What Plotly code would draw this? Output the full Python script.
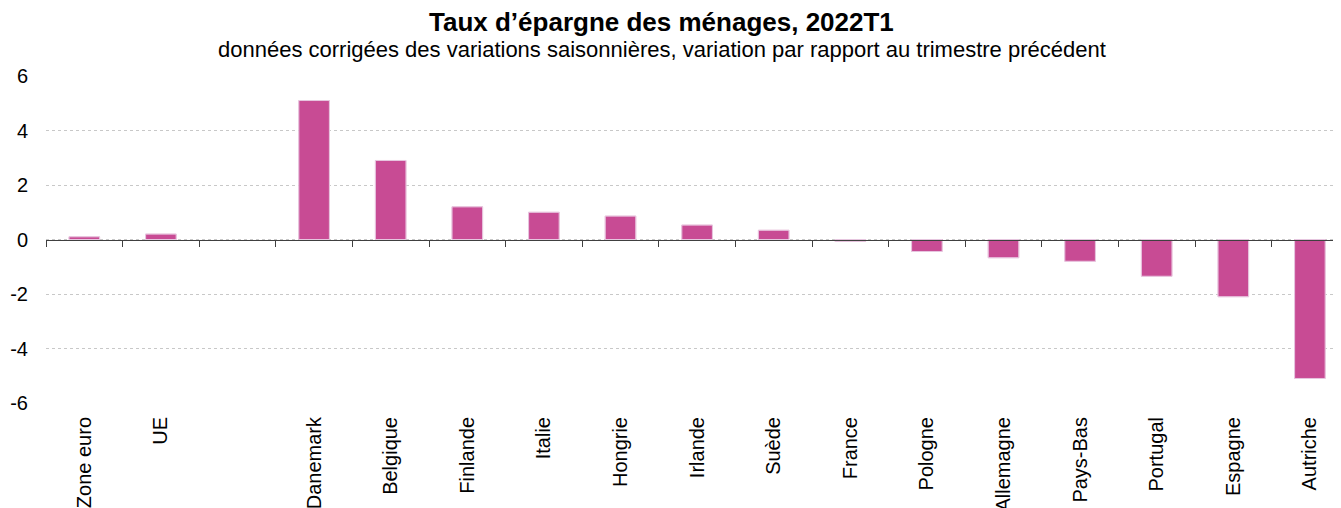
import plotly.graph_objects as go

categories = ["Zone euro", "UE", " ", "Danemark", "Belgique", "Finlande", "Italie",
              "Hongrie", "Irlande", "Suède", "France", "Pologne", "Allemagne",
              "Pays-Bas", "Portugal", "Espagne", "Autriche"]
values = [0.1, 0.2, None, 5.1, 2.9, 1.2, 1.0, 0.86, 0.53, 0.34, -0.07, -0.44, -0.67,
          -0.8, -1.35, -2.1, -5.1]
y_ticks = [-6, -4, -2, 0, 2, 4, 6]
y_tick_text = ["-6", "-4", "-2", "0", "2", "4", "6"]

title = "<b>Taux d’épargne des ménages, 2022T1</b>"
subtitle = "données corrigées des variations saisonnières, variation par rapport au trimestre précédent"

# page body has an 8px margin
OFF = 8
W, H = 1341 - OFF, 508 - OFF
ML, MR, MT = 46 - OFF, 0, 76 - OFF
PH = 327
MB = H - MT - PH
cat_px = 76.6
pw = W - ML - MR
xr = [-0.5, -0.5 + pw / cat_px]

bar_color = "rgb(200,75,148)"

fig = go.Figure()
fig.add_trace(go.Bar(x=categories, y=values, marker_color=bar_color,
                     marker_line=dict(color="rgb(232,160,200)", width=1),
                     width=0.4, xaxis="x", yaxis="y", showlegend=False))
fig.add_trace(go.Bar(x=categories, y=values, marker_color="rgba(0,0,0,0)",
                     width=0.4, xaxis="x2", yaxis="y", showlegend=False,
                     hoverinfo="skip"))

font = "Liberation Sans, Arial, sans-serif"
fig.update_layout(
    width=W, height=H,
    margin=dict(l=ML, r=MR, t=MT, b=MB, autoexpand=False),
    paper_bgcolor="white", plot_bgcolor="white",
    font=dict(family=font, color="black", size=20),
    bargap=0.6,
    xaxis=dict(type="category", categoryorder="array", categoryarray=categories,
               range=xr, tickangle=-90, showgrid=False, showline=False, ticks="",
               zeroline=False, automargin=False, ticklabelstandoff=9,
               tickfont=dict(size=20, family=font, color="black")),
    xaxis2=dict(type="category", categoryorder="array", categoryarray=categories,
                range=xr, overlaying="x", anchor="free", position=0.5,
                showline=True, linecolor="#404040", linewidth=1,
                ticks="outside", tickson="boundaries", ticklen=6, tickcolor="#404040",
                showticklabels=False, showgrid=False, zeroline=False),
    yaxis=dict(range=[-6, 6], tickvals=y_ticks, ticktext=y_tick_text, showgrid=True,
               gridcolor="#c8c8c8", griddash="dot", gridwidth=1,
               zeroline=False, showline=False, ticks="", ticklabelstandoff=17,
               automargin=False,
               tickfont=dict(size=20, family=font, color="black")),
)
fig.add_annotation(text=title, xref="paper", yref="paper",
                   x=(661 - OFF - ML) / pw, y=(H - MB - (22 - OFF)) / PH,
                   xanchor="center", yanchor="middle", showarrow=False,
                   font=dict(size=26, family=font, color="black"))
fig.add_annotation(text=subtitle, xref="paper", yref="paper",
                   x=(662 - OFF - ML) / pw, y=(H - MB - (50 - OFF)) / PH,
                   xanchor="center", yanchor="middle", showarrow=False,
                   font=dict(size=22, family=font, color="black"))

fig.write_html("out.html")
